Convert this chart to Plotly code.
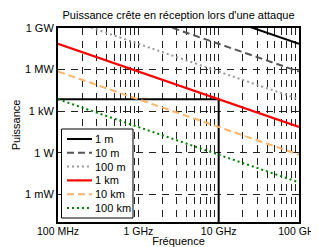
import plotly.graph_objects as go

# ---- data ----
freq_hz = [1e8, 1e9, 1e10, 1e11]
series_names = ["1 m", "10 m", "100 m", "1 km", "10 km", "100 km"]
p_1m = [7.2e13, 7.2e11, 7.2e9, 7.2e7]
p_10m = [7.2e11, 7.2e9, 7.2e7, 7.2e5]
p_100m = [7.2e9, 7.2e7, 7.2e5, 7.2e3]
p_1km = [7.2e7, 7.2e5, 7.2e3, 72.0]
p_10km = [7.2e5, 7.2e3, 72.0, 0.72]
p_100km = [7.2e3, 72.0, 0.72, 0.0072]

# marker of the 1 km value at 10 GHz
mark_f = [1e8, 1e10, 1e10]
mark_p = [7.2e3, 7.2e3, 1e-5]

x_tickvals = [1e8, 1e9, 1e10, 1e11]
x_ticktext = ["100 MHz", "1 GHz", "10 GHz", "100 GHz"]
y_tickvals = [1e9, 1e6, 1e3, 1.0, 1e-3]
y_ticktext = ["1 GW", "1 MW", "1 kW", "1 W", "1 mW"]

title_text = "Puissance crête en réception lors d'une attaque"
x_title = "Fréquence"
y_title = "Puissance"

# ---- styles ----
values = [p_1m, p_10m, p_100m, p_1km, p_10km, p_100km]
colors = ["#000000", "#555555", "#999999", "#ff0000", "#ffb366", "#008000"]
dashes = ["solid", "7px,4px", "2px,3px", "solid", "7px,4px", "2px,3px"]
widths = [2, 2, 2, 2.2, 2, 2]

FONT = "Liberation Sans, Arial, sans-serif"
OFF = 8  # page body margin
W, H = 311, 239
ML, MR, MT, MB = 50, 20, 20, 25
PW, PH = W - ML - MR, H - MT - MB

fig = go.Figure()
fig.add_trace(go.Scatter(x=mark_f, y=mark_p, mode="lines",
                         line=dict(color="black", width=2),
                         showlegend=False, hoverinfo="skip"))
for name, vals, c, d, w in zip(series_names, values, colors, dashes, widths):
    fig.add_trace(go.Scatter(x=freq_hz, y=vals, mode="lines", name=name,
                             line=dict(color=c, dash=d, width=w),
                             showlegend=False))

# minor x grid positions (2..9 in each decade)
minor_x = [m * dec for dec in x_tickvals[:-1] for m in range(2, 10)]

grid_color = "#222222"
grid_dash = "7px,6px"

fig.update_xaxes(type="log", range=[8, 11], tickvals=x_tickvals, ticktext=x_ticktext,
                 showgrid=True, gridcolor=grid_color, griddash=grid_dash, gridwidth=1,
                 minor=dict(tickvals=minor_x, showgrid=True, gridcolor=grid_color,
                            griddash=grid_dash, gridwidth=1, ticks=""),
                 ticks="", showline=True, mirror=True, linecolor="black", linewidth=2,
                 zeroline=False, automargin=False, ticklabeloverflow="allow",
                 ticklabelstandoff=-2,
                 title=dict(text=x_title, standoff=2, font=dict(size=11)),
                 tickfont=dict(size=10.5))
fig.update_yaxes(type="log", range=[-5, 9], tickvals=y_tickvals, ticktext=y_ticktext,
                 showgrid=True, gridcolor=grid_color, griddash=grid_dash, gridwidth=1,
                 ticks="", showline=True, mirror=True, linecolor="black", linewidth=2,
                 zeroline=False, automargin=False,
                 title=dict(text=y_title, standoff=2, font=dict(size=11)),
                 tickfont=dict(size=11))

# ---- manual compact legend (paper coordinates, from page pixels) ----
def px_x(px):
    return (px - OFF - ML) / PW

def px_y(py):
    return (MT + PH - (py - OFF)) / PH

shapes = [dict(type="rect", xref="paper", yref="paper",
               x0=px_x(61.5), x1=px_x(133), y0=px_y(218), y1=px_y(129),
               fillcolor="white", line=dict(color="black", width=1), layer="above")]
annotations = []
row0, step = 139.0, 13.8
for i, (name, c, d, w) in enumerate(zip(series_names, colors, dashes, widths)):
    yy = px_y(row0 + i * step)
    shapes.append(dict(type="line", xref="paper", yref="paper",
                       x0=px_x(67), x1=px_x(92), y0=yy, y1=yy,
                       line=dict(color=c, dash=d, width=w), layer="above"))
    annotations.append(dict(xref="paper", yref="paper", x=px_x(93), y=yy,
                            text=name, showarrow=False, xanchor="left", yanchor="middle",
                            font=dict(size=11, color="black")))

fig.update_layout(
    template="none",
    width=W, height=H,
    margin=dict(l=ML, r=MR, t=MT, b=MB, pad=0, autoexpand=False),
    paper_bgcolor="white", plot_bgcolor="white",
    font=dict(family=FONT, size=11, color="black"),
    title=dict(text=title_text, x=0.5, xref="paper", y=1 - (15 - OFF) / H, yref="container",
               xanchor="center", yanchor="middle", font=dict(size=11)),
    showlegend=False,
    shapes=shapes,
    annotations=annotations,
)

fig.write_html("out.html")
